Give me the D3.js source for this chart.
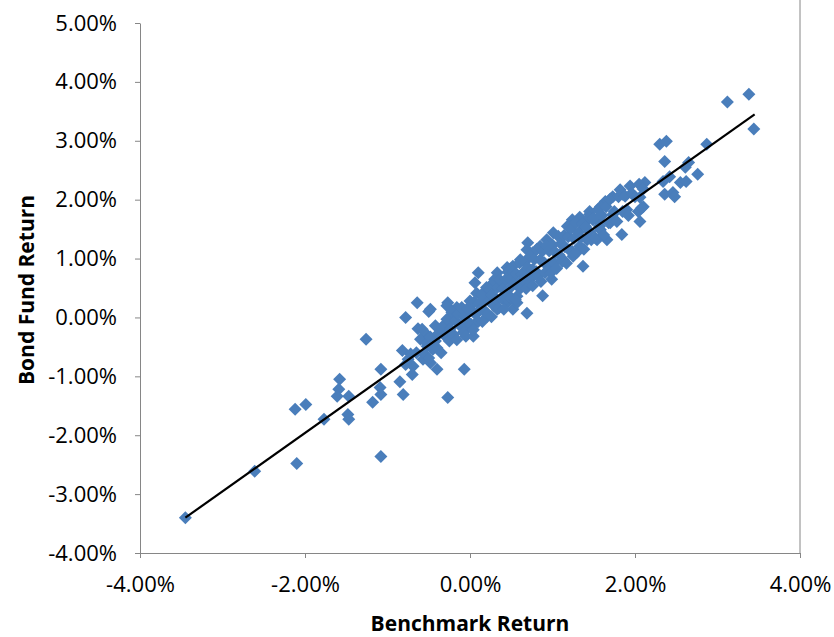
<!DOCTYPE html>
<html><head><meta charset="utf-8">
<script src="https://cdn.jsdelivr.net/npm/d3@7"></script>
<style>body{margin:0;background:#fff} svg{display:block}</style>
</head><body>
<svg id="c" width="834" height="637"></svg>
<script>
// Benchmark return (%) and bond fund return (%) for each observation
const benchmark = [
-3.45,-2.61,-2.10,-2.12,-1.99,-1.77,-1.58,-1.59,-1.61,-1.47,-1.48,-1.47,
-1.26,-1.08,-1.09,-1.08,-1.08,-1.18,
-0.64,-0.50,-0.78,-0.63,-0.51,-0.42,-0.82,-0.75,-0.69,-0.57,-0.48,-0.70,-0.85,-0.40,-0.81,-0.78,-0.65,-0.72,
-0.48,-0.27,-0.16,-0.10,-0.21,-0.28,-0.36,-0.45,-0.52,-0.58,0.04,-0.04,0.08,0.21,0.33,0.45,0.52,0.57,0.40,0.28,0.61,-0.45,0.10,0.06,0.33,0.45,0.52,0.22,0.16,
-0.07,-0.27,-0.28,0.69,0.88,0.99,1.37,
1.24,1.33,1.45,1.54,1.01,0.93,0.70,0.69,0.76,0.85,0.61,0.48,1.18,1.33,1.25,1.13,0.76,0.73,0.61,0.48,0.40,0.57,1.54,1.45,
2.30,2.38,2.36,2.42,2.34,2.36,2.46,2.12,1.94,1.82,1.73,1.64,1.58,1.45,1.85,2.06,2.10,1.90,2.04,2.06,1.84,1.73,1.70,1.39,1.49,1.58,1.66,1.42,2.55,
3.12,3.38,3.44,2.87,2.65,2.61,2.76,2.62,2.48,
-0.60,-0.55,-0.52,-0.50,-0.48,-0.45,-0.42,-0.40,-0.38,-0.35,-0.33,-0.30,-0.28,-0.25,-0.24,-0.22,-0.20,-0.18,-0.16,-0.15,-0.12,-0.10,-0.08,-0.06,-0.05,-0.03,-0.02,
0.00,0.01,0.03,0.04,0.05,0.07,0.08,0.10,0.11,0.12,0.14,0.15,0.17,0.18,0.20,0.21,0.23,0.24,0.26,0.27,0.29,0.30,0.32,0.33,0.35,0.36,0.38,0.40,0.41,0.43,0.44,0.46,0.47,0.49,
0.50,0.52,0.53,0.55,0.56,0.58,0.60,0.61,0.63,0.64,0.66,0.68,0.70,0.71,0.73,0.75,0.76,0.78,0.80,0.81,0.83,0.85,0.86,0.88,0.90,0.91,0.93,0.95,0.96,0.98,
1.00,1.02,1.03,1.05,1.07,1.08,1.10,1.12,1.14,1.15,1.17,1.19,1.20,1.22,1.24,1.26,1.28,1.30,1.32,1.34,1.36,1.38,1.40,1.42,1.45,1.47,
1.50,1.52,1.55,1.57,1.60,1.62,1.65,1.68,1.70,1.75,1.78,1.80,1.85,1.88,1.92,1.96,2.00,2.05,2.08,2.10
];
const fund = [
-3.40,-2.61,-2.48,-1.56,-1.48,-1.73,-1.05,-1.22,-1.34,-1.34,-1.65,-1.73,
-0.37,-0.88,-1.19,-1.31,-2.36,-1.44,
0.25,0.10,0.00,-0.19,-0.31,-0.40,-0.56,-0.71,-0.83,-0.71,-0.77,-0.97,-1.09,-0.88,-1.31,-0.80,-0.60,-0.62,
0.14,0.25,0.17,0.05,-0.03,-0.15,-0.25,-0.37,-0.49,-0.20,-0.32,-0.20,-0.08,0.02,0.14,0.25,0.14,0.36,0.48,0.59,0.59,-0.54,0.76,0.59,0.76,0.85,0.87,0.48,0.36,
-0.88,-1.36,0.20,0.07,0.37,0.65,0.87,
1.66,1.70,1.75,1.66,1.44,1.32,1.27,1.15,1.10,1.21,0.98,0.81,1.55,1.21,1.04,0.98,0.81,0.65,0.53,0.36,0.59,0.25,1.32,1.46,
2.94,2.99,2.65,2.39,2.31,2.09,2.12,2.29,2.23,2.17,2.05,1.97,1.88,1.80,2.09,2.04,1.88,1.83,1.80,1.63,1.41,1.75,1.61,1.61,1.66,1.49,1.32,1.32,2.29,
3.66,3.79,3.20,2.94,2.63,2.55,2.43,2.31,2.05,
-0.37,-0.62,-0.44,-0.69,-0.33,-0.44,-0.14,-0.52,-0.27,-0.60,-0.15,-0.32,-0.03,-0.40,-0.19,0.09,-0.29,-0.05,-0.38,0.06,-0.14,0.17,-0.25,0.03,-0.32,0.15,-0.09,
0.28,-0.11,0.11,-0.21,0.26,0.05,0.41,-0.07,0.24,0.13,0.39,-0.07,0.32,0.11,0.51,0.06,0.28,0.47,0.01,0.38,0.20,0.65,0.30,0.51,0.16,0.64,0.33,0.48,0.14,0.64,0.32,0.77,0.48,0.64,
0.33,0.77,0.58,0.30,0.74,0.53,0.93,0.49,0.74,0.65,0.94,0.49,0.85,0.64,1.04,0.80,0.54,0.99,0.78,1.16,0.71,0.98,0.61,1.13,0.93,0.76,1.22,0.90,1.13,0.76,
1.23,0.93,1.11,0.83,1.38,1.06,1.25,0.95,1.39,1.20,0.92,1.37,1.15,1.50,1.12,1.34,1.61,1.11,1.45,1.35,1.59,1.16,1.55,1.35,1.70,1.32,
1.68,1.35,1.83,1.55,1.73,1.40,1.88,1.61,2.01,1.80,1.63,2.05,1.80,2.06,1.73,2.11,2.05,2.26,1.86,2.18
];
// Fitted trend line end points (%)
const trendX = [-3.45, 3.45];
const trendY = [-3.40, 3.45];
const xTicks = [-4, -2, 0, 2, 4];
const yTicks = [-4, -3, -2, -1, 0, 1, 2, 3, 4, 5];
const xTitle = "Benchmark Return";
const yTitle = "Bond Fund Return";

const svg = d3.select("#c");
const x = d3.scaleLinear().domain([-4, 4]).range([140, 800]);
const y = d3.scaleLinear().domain([-4, 5]).range([553, 23]);
const fmt = d => d.toFixed(2) + "%";
const axisColor = "#868686";
const font = "'Open Sans', 'Noto Sans', sans-serif";

// right border of plot
svg.append("line").attr("x1", x(4)).attr("x2", x(4)).attr("y1", 0).attr("y2", y(-4))
  .attr("stroke", axisColor).attr("stroke-width", 1);

const gx = svg.append("g").attr("transform", `translate(0,${y(-4)})`)
  .call(d3.axisBottom(x).tickValues(xTicks).tickFormat(fmt).tickSize(5).tickSizeOuter(0).tickPadding(18));
const gy = svg.append("g").attr("transform", `translate(${x(-4)},0)`)
  .call(d3.axisLeft(y).tickValues(yTicks).tickFormat(fmt).tickSize(5).tickSizeOuter(0).tickPadding(18));
[gx, gy].forEach(g => {
  g.selectAll("path,line").attr("stroke", axisColor);
  g.selectAll("text").attr("fill", "#000").style("font-family", font).style("font-size", "22px");
});

// points
const pts = benchmark.map((b, i) => ({b, f: fund[i]}));
const r = 6.5;
svg.append("g").selectAll("path").data(pts).join("path")
  .attr("transform", d => `translate(${x(d.b)},${y(d.f)})`)
  .attr("d", `M0,${-r}L${r},0L0,${r}L${-r},0Z`)
  .attr("fill", "#4a7ebb");

// trend line
svg.append("line")
  .attr("x1", x(trendX[0])).attr("y1", y(trendY[0]))
  .attr("x2", x(trendX[1])).attr("y2", y(trendY[1]))
  .attr("stroke", "#000").attr("stroke-width", 2.2);

// titles
svg.append("text").attr("x", 470).attr("y", 631).attr("text-anchor", "middle")
  .style("font-family", font).style("font-size", "21px").style("font-weight", "bold").text(xTitle);
svg.append("text").attr("transform", "translate(34,290) rotate(-90)").attr("text-anchor", "middle")
  .style("font-family", font).style("font-size", "21px").style("font-weight", "bold").text(yTitle);
</script>
</body></html>
